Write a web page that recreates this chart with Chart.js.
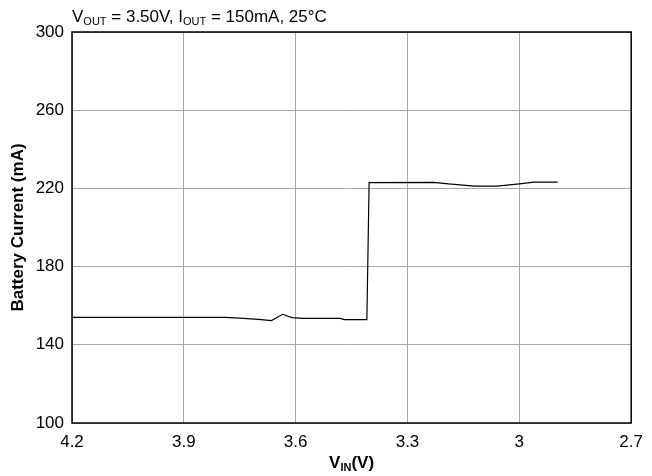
<!DOCTYPE html>
<html>
<head>
<meta charset="utf-8">
<script src="https://cdn.jsdelivr.net/npm/chart.js@4.4.1/dist/chart.umd.min.js"></script>
<style>
  html, body { margin: 0; padding: 0; background: #fff; }
</style>
</head>
<body>
<canvas id="chart" width="652" height="476"></canvas>
<script>
// Battery current vs input voltage
const vin = [4.2, 3.79, 3.75, 3.70, 3.665, 3.635, 3.61, 3.58, 3.48, 3.47, 3.409, 3.403, 3.23, 3.19, 3.12, 3.06, 3.0, 2.96, 2.897];
const batteryCurrent = [154, 154, 153.6, 153, 152.4, 155.6, 153.9, 153.5, 153.5, 152.9, 152.9, 223, 223.1, 222.3, 221.2, 221.2, 222.3, 223.2, 223.2];

const xTicks = [4.2, 3.9, 3.6, 3.3, 3, 2.7];
const yTicks = [100, 140, 180, 220, 260, 300];

// text pieces: [text, isSubscript]
const titleParts = [['V', false], ['OUT', true], [' = 3.50V, I', false], ['OUT', true], [' = 150mA, 25°C', false]];
const xTitleParts = [['V', false], ['IN', true], ['(V)', false]];
const yTitle = 'Battery Current (mA)';

const FONT = "'Liberation Sans', Arial, sans-serif";

function drawParts(ctx, parts, x, y, size, subSize, bold, align) {
  const w = bold ? 'bold ' : '';
  let total = 0;
  parts.forEach(([t, sub]) => {
    ctx.font = w + (sub ? subSize : size) + 'px ' + FONT;
    total += ctx.measureText(t).width;
  });
  let cx = align === 'center' ? x - total / 2 : x;
  ctx.textAlign = 'left';
  ctx.textBaseline = 'alphabetic';
  parts.forEach(([t, sub]) => {
    ctx.font = w + (sub ? subSize : size) + 'px ' + FONT;
    ctx.fillText(t, cx, sub ? y + 3 : y);
    cx += ctx.measureText(t).width;
  });
}

const decorations = {
  id: 'decorations',
  afterDraw(chart) {
    const { ctx, chartArea: a } = chart;
    ctx.save();
    // frame
    ctx.strokeStyle = '#000';
    ctx.lineWidth = 1.5;
    ctx.strokeRect(a.left, a.top, a.right - a.left, a.bottom - a.top);
    ctx.fillStyle = '#000';
    // condition text above the plot
    drawParts(ctx, titleParts, a.left, 22, 17, 11, false, 'left');
    // x axis title
    drawParts(ctx, xTitleParts, (a.left + a.right) / 2, 468, 17, 11, true, 'center');
    // y axis title
    ctx.translate(18, (a.top + a.bottom) / 2);
    ctx.rotate(-Math.PI / 2);
    ctx.font = 'bold 17px ' + FONT;
    ctx.textAlign = 'center';
    ctx.textBaseline = 'middle';
    ctx.fillText(yTitle, 0, 0);
    ctx.restore();
  }
};

new Chart(document.getElementById('chart'), {
  type: 'line',
  data: {
    datasets: [{
      data: vin.map((v, i) => ({ x: v, y: batteryCurrent[i] })),
      borderColor: '#000',
      borderWidth: 1.2,
      pointRadius: 0,
      tension: 0,
      fill: false
    }]
  },
  options: {
    responsive: false,
    animation: false,
    layout: { padding: { top: 32, right: 15, bottom: 0, left: 0 } },
    plugins: {
      legend: { display: false },
      tooltip: { enabled: false }
    },
    scales: {
      x: {
        type: 'linear',
        reverse: true,
        min: 2.7,
        max: 4.2,
        afterBuildTicks: (scale) => { scale.ticks = xTicks.map(v => ({ value: v })); },
        afterFit: (scale) => { scale.height = 53; },
        grid: { color: '#a8a8a8', lineWidth: 1, drawTicks: false },
        border: { display: false },
        ticks: {
          color: '#000',
          font: { family: FONT, size: 17 },
          padding: 9,
          maxRotation: 0,
          callback: (v) => String(v)
        }
      },
      y: {
        min: 100,
        max: 300,
        afterBuildTicks: (scale) => { scale.ticks = yTicks.map(v => ({ value: v })); },
        afterFit: (scale) => { scale.width = 72; },
        grid: { color: '#a8a8a8', lineWidth: 1, drawTicks: false },
        border: { display: false },
        ticks: {
          color: '#000',
          font: { family: FONT, size: 17 },
          padding: 8
        }
      }
    }
  },
  plugins: [decorations]
});
</script>
</body>
</html>
